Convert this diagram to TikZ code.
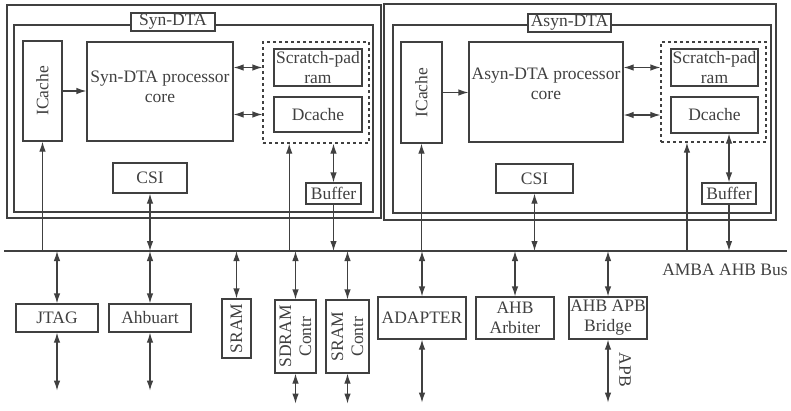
\documentclass[tikz,border=0pt]{standalone}
\usepackage{fontspec}
\setmainfont{Liberation Serif}
\usetikzlibrary{arrows.meta,calc}
\definecolor{ink}{gray}{0.25}
\tikzset{
    ahead/.tip={Latex[length=10pt,width=6.5pt]},
    box/.style 2 args={draw=ink, inner sep=0pt, minimum width=#1pt, minimum height=#2pt, align=center},
    grp/.style 2 args={box={#1}{#2}, dashed},
    link/.style={draw=ink},
    sgl/.style={link, -ahead},
    dbl/.style={link, ahead-ahead}}

\begin{document}
\begin{tikzpicture}[x=1pt, y=1pt, line width=1.2pt, font=\fontsize{17.5}{20}\selectfont, text=ink]
\useasboundingbox (0,0) rectangle (791,-410);

%frames
\draw[ink] (7,-5) rectangle (381,-218);
\draw[ink] (14,-25) rectangle (373,-212);
\draw[ink] (384,-4) rectangle (776,-220);
\draw[ink] (393,-25) rectangle (771,-213);
\node[box={84}{18}, fill=white] (tagL) at (173,-22) {Syn-DTA};
\node[box={83}{18}, fill=white] (tagR) at (569.5,-23) {Asyn-DTA};

%Syn-DTA
\node[box={39}{100}] (icacheL) at (42.5,-91) {};
\node[rotate=90] at (icacheL) {ICache};
\node[box={146}{99}] (coreL) at (160,-91.5) {};
\node[align=center] at ([yshift=4.5pt]coreL.center) {Syn-DTA processor\\core};
\node[grp={106}{101}] (dashL) at (316,-92.5) {};
\node[box={88}{37}] (spadL) at (318,-67.5) {Scratch-pad\\ram};
\node[box={88}{35}] (dcacheL) at (318,-114.5) {Dcache};
\node[box={74}{30}] (csiL) at (150,-178) {CSI};
\node[box={55}{21}] (bufL) at (333.5,-193.5) {Buffer};

%Asyn-DTA
\node[box={41}{101}] (icacheR) at (421.5,-92.5) {};
\node[rotate=90] at (icacheR) {ICache};
\node[box={154}{100}] (coreR) at (546,-92) {};
\node[align=center] at ([yshift=8.5pt]coreR.center) {Asyn-DTA processor\\core};
\node[grp={105}{100}] (dashR) at (713.5,-92) {};
\node[box={87}{37}] (spadR) at (714.5,-67.5) {Scratch-pad\\ram};
\node[box={87}{36}] (dcacheR) at (714.5,-115) {Dcache};
\node[box={77}{29}] (csiR) at (534.5,-178.5) {CSI};
\node[box={54}{21}] (bufR) at (729,-193.5) {Buffer};

%bus
\coordinate (busW) at (4,-251);
\coordinate (busE) at (787,-251);
\draw[link] (busW) -- (busE);
\node (busname) at (725,-270) {AMBA AHB Bus};

%peripherals
\node[box={82}{28}] (jtag) at (57,-318) {JTAG};
\node[box={82}{28}] (ahbuart) at (150,-318) {Ahbuart};
\node[box={29}{59}] (sram) at (236.5,-328.5) {};
\node[rotate=90] at (sram) {SRAM};
\node[box={41}{73}] (sdram) at (295.5,-336.5) {};
\node[rotate=90, align=center] at (sdram) {SDRAM\\Contr};
\node[box={43}{73}] (sramc) at (347.5,-336.5) {};
\node[rotate=90, align=center] at (sramc) {SRAM\\Contr};
\node[box={88}{42}] (adapter) at (422,-318) {ADAPTER};
\node[box={78}{42}] (arbiter) at (515,-318) {AHB\\Arbiter};
\node[box={78}{42}] (bridge) at (608,-318) {AHB APB\\Bridge};
\node[rotate=-90] (apb) at (625,-370) {APB};

%inside the cores
\draw[sgl] (icacheL.east) -- (icacheL.east -| coreL.west);
\draw[dbl] (coreL.east |- spadL) -- (dashL.west |- spadL);
\draw[dbl] (coreL.east |- dcacheL) -- (dashL.west |- dcacheL);
\draw[dbl] (dashL.south -| bufL) -- (bufL.north);
\draw[sgl] (icacheR.east) -- (icacheR.east -| coreR.west);
\draw[dbl] (coreR.east |- spadR) -- (dashR.west |- spadR);
\draw[dbl] (coreR.east |- dcacheR) -- (dashR.west |- dcacheR);
\draw[dbl] (dcacheR.south -| bufR) -- (bufR.north);

%cores to bus
\coordinate (tapL) at ($(dashL.south west)!0.25!(dashL.south east)$);
\coordinate (tapR) at ($(dashR.south west)!0.25!(dashR.south east)$);
\foreach \n in {icacheL,tapL,icacheR,tapR}
    \draw[sgl] (\n.south |- busW) -- (\n.south);
\foreach \n in {csiL,csiR}
    \draw[dbl] (\n.south |- busW) -- (\n.south);
\foreach \n in {bufL,bufR}
    \draw[sgl] (\n.south) -- (\n.south |- busW);

%bus to peripherals
\foreach \n in {jtag,ahbuart,sram,sdram,sramc,adapter,arbiter,bridge}
    \draw[dbl] (\n.north |- busW) -- (\n.north);
\foreach \n/\len in {jtag/58,ahbuart/58,sdram/30,sramc/30,adapter/63,bridge/63}
    \draw[dbl] (\n.south) -- ++(0,-\len);

\end{tikzpicture}
\end{document}
